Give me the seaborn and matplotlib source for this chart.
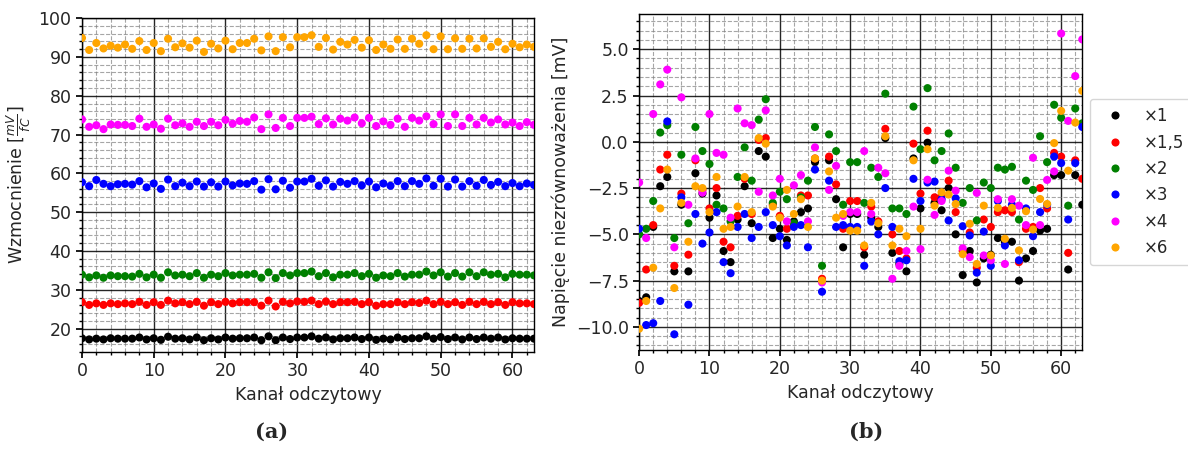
import numpy as np
import pandas as pd
import matplotlib
matplotlib.use("Agg")
import matplotlib.pyplot as plt
from matplotlib.ticker import MultipleLocator, FuncFormatter
import seaborn as sns

# ---------------------------------------------------------------- data
channels = list(range(64))
gain_labels = ["×1", "×1,5", "×2", "×3", "×4", "×6"]
colors = ["black", "red", "green", "blue", "magenta", "orange"]

# gain [mV/fC] per readout channel
gain_x1 = [17.5, 17.2, 17.4, 17.2, 17.5, 17.4, 17.4, 17.4, 17.7, 17.2,
           17.5, 17.1, 17.9, 17.4, 17.5, 17.2, 17.7, 17.0, 17.5, 17.2,
           17.7, 17.4, 17.5, 17.5, 17.7, 17.0, 18.0, 17.0, 17.7, 17.3,
           17.7, 17.7, 18.0, 17.4, 17.7, 17.2, 17.5, 17.5, 17.7, 17.3,
           17.7, 17.1, 17.4, 17.2, 17.7, 17.3, 17.5, 17.5, 18.0, 17.4,
           17.8, 17.3, 17.7, 17.2, 17.7, 17.3, 17.7, 17.4, 17.7, 17.2,
           17.5, 17.4, 17.4, 17.4]
gain_x15 = [26.8, 26.1, 26.5, 26.1, 26.5, 26.3, 26.5, 26.3, 26.9, 26.1,
            26.8, 26.1, 27.2, 26.5, 26.8, 26.3, 26.9, 25.9, 26.8, 26.3,
            26.9, 26.5, 26.8, 26.8, 26.8, 25.9, 27.2, 25.7, 26.9, 26.5,
            27.0, 26.9, 27.2, 26.3, 27.0, 26.3, 26.8, 26.8, 26.9, 26.3,
            26.8, 25.9, 26.3, 26.3, 26.8, 26.3, 26.8, 26.6, 27.2, 26.3,
            26.9, 26.3, 26.8, 26.1, 26.9, 26.3, 26.9, 26.3, 26.8, 26.1,
            26.8, 26.5, 26.5, 26.3]
gain_x2 = [33.9, 33.2, 33.7, 33.1, 33.7, 33.5, 33.5, 33.4, 34.1, 33.2,
           33.9, 33.1, 34.5, 33.7, 33.9, 33.5, 34.3, 33.1, 33.9, 33.5,
           34.3, 33.7, 33.9, 33.9, 34.1, 33.1, 34.5, 33.0, 34.3, 33.7,
           34.3, 34.3, 34.7, 33.5, 34.3, 33.2, 33.9, 33.9, 34.3, 33.5,
           34.1, 33.1, 33.7, 33.5, 34.3, 33.4, 33.9, 33.9, 34.7, 33.7,
           34.5, 33.4, 34.3, 33.4, 34.5, 33.5, 34.5, 33.9, 34.1, 33.2,
           34.1, 33.9, 33.9, 33.7]
gain_x3 = [57.7, 56.7, 58.3, 57.3, 56.7, 57.2, 57.3, 57.1, 58.0, 56.4,
           57.4, 56.0, 58.4, 56.7, 57.6, 56.7, 57.9, 56.6, 57.7, 56.6,
           57.9, 56.9, 57.4, 57.3, 58.0, 55.8, 58.5, 55.9, 58.1, 56.3,
           57.9, 57.9, 58.6, 56.8, 58.2, 56.6, 57.8, 57.3, 58.0, 56.9,
           57.9, 56.4, 57.4, 56.8, 58.0, 56.7, 58.0, 57.3, 58.7, 56.8,
           58.6, 56.6, 58.4, 56.6, 58.0, 56.8, 58.3, 57.0, 57.8, 56.7,
           57.5, 56.7, 57.4, 57.0]
gain_x4 = [73.9, 72.0, 72.4, 71.4, 72.6, 72.5, 72.5, 72.2, 74.1, 72.0,
           72.6, 71.5, 74.1, 72.4, 72.9, 72.0, 73.3, 72.2, 73.3, 72.4,
           73.8, 72.8, 73.5, 73.3, 74.4, 71.4, 75.2, 71.7, 74.3, 72.2,
           74.3, 74.3, 74.6, 72.7, 74.2, 72.6, 74.1, 73.6, 74.4, 72.9,
           74.3, 72.2, 73.4, 72.5, 74.1, 72.0, 74.3, 73.6, 74.7, 72.7,
           75.2, 72.2, 75.2, 72.2, 74.3, 72.6, 74.3, 73.1, 73.9, 72.6,
           73.1, 72.2, 73.2, 72.5]
gain_x6 = [94.9, 91.8, 93.6, 92.2, 92.9, 92.4, 93.2, 92.1, 94.1, 91.8,
           93.6, 91.5, 94.7, 92.5, 93.5, 92.4, 94.2, 91.3, 93.4, 92.2,
           94.2, 92.0, 93.6, 93.6, 94.7, 91.7, 95.3, 91.5, 95.1, 92.5,
           95.1, 95.1, 95.6, 92.6, 94.9, 91.9, 93.9, 93.2, 94.4, 92.4,
           94.3, 91.8, 93.2, 92.1, 94.5, 92.1, 94.7, 93.4, 95.6, 92.0,
           95.3, 92.0, 94.8, 92.1, 94.7, 92.2, 94.8, 92.6, 93.9, 92.0,
           93.4, 92.5, 93.2, 92.6]

# offset voltage [mV] per readout channel
offset_x1 = [-8.6, -8.4, -4.6, -2.4, -1.9, -7.0, -3.4, -7.0, -1.7, -2.8,
             -4.1, -2.9, -5.9, -6.5, -4.2, -2.4, -4.4, -0.5, -0.8, -5.2,
             -4.7, -5.3, -4.3, -3.8, -3.6, -1.1, -7.5, -1.0, -3.1, -5.7,
             -3.9, -3.9, -6.1, -4.1, -4.6, 0.2, -6.0, -6.6, -7.0, -0.9,
             -3.6, -0.05, -3.3, -3.7, -2.5, -5.0, -7.2, -5.9, -7.6, -6.3,
             -6.1, -5.2, -5.4, -5.4, -7.5, -6.3, -5.9, -4.8, -4.7, -1.8,
             -1.8, -6.9, -1.8, -3.4]
offset_x15 = [-8.7, -6.9, -4.5, -1.5, -0.7, -6.7, -2.8, -6.1, -1.0, -2.6,
              -3.6, -2.5, -5.4, -5.7, -4.0, -2.0, -3.9, 0.1, 0.2, -3.4,
              -4.0, -4.7, -4.5, -2.9, -2.9, -0.9, -7.4, -0.8, -2.3, -4.7,
              -3.2, -3.2, -5.7, -3.5, -4.3, 0.7, -5.0, -5.9, -6.3, -0.1,
              -2.8, 0.6, -3.0, -2.9, -2.1, -3.8, -5.9, -4.9, -6.8, -4.2,
              -4.6, -3.8, -3.7, -3.8, -6.5, -4.7, -4.6, -2.5, -3.6, -0.6,
              -0.8, -6.0, -1.0, -2.0]
offset_x2 = [-5.0, -4.7, -3.2, 0.5, 0.9, -5.2, -0.7, -4.4, 0.8, -0.5,
             -1.2, -3.4, -3.6, -4.3, -1.9, -0.3, -2.1, 1.2, 2.3, -3.3,
             -2.7, -3.1, -4.4, -3.0, -2.1, 0.8, -6.7, 0.4, -0.5, -3.4,
             -1.1, -1.1, -3.3, -1.4, -1.9, 2.6, -3.6, -3.6, -3.9, 1.9,
             -0.4, 2.9, -1.0, -0.5, 0.45, -1.4, -3.3, -2.5, -4.25, -2.2,
             -2.5, -1.4, -1.5, -1.35, -4.2, -2.1, -2.6, 0.3, -1.1, 2.0,
             1.3, -3.45, 1.8, 1.0]
offset_x3 = [-4.7, -9.9, -9.8, -8.6, 1.1, -10.4, -3.0, -8.8, -3.9, -5.5,
             -4.9, -3.8, -6.5, -7.1, -4.6, -3.9, -5.2, -4.6, -3.8, -4.5,
             -5.1, -5.6, -4.6, -4.5, -5.7, -1.5, -8.1, -2.1, -4.6, -4.5,
             -4.6, -4.6, -6.7, -4.3, -5.0, -2.5, -4.6, -6.45, -6.4, -2.0,
             -3.2, -2.2, -2.15, -3.1, -4.25, -3.05, -4.56, -5.06, -7.07, -4.85,
             -6.7, -3.2, -5.6, -3.4, -6.4, -3.6, -5.1, -3.8, -3.4, -0.8,
             -1.15, -4.2, -1.15, 0.8]
offset_x4 = [-2.2, -5.2, 1.5, 3.1, 3.9, -5.7, 2.4, -3.4, -0.9, -2.75,
             1.5, -0.6, -0.7, -4.1, 1.8, 1.0, 0.9, -2.7, 1.7, -2.9,
             -2.0, -4.3, -2.35, -1.8, -4.3, -0.3, -7.6, -2.6, -1.3, -4.0,
             -3.8, -3.8, -0.5, -3.9, -1.4, -1.7, -7.4, -6.7, -5.9, -3.5,
             -5.8, -2.05, -3.95, -3.2, -1.56, -2.64, -5.75, -6.23, -2.76, -6.14,
             -6.4, -3.1, -6.6, -3.1, -3.45, -4.5, -0.86, -4.5, -2.06, -1.6,
             5.85, 1.13, 3.55, 5.53]
offset_x6 = [-10.1, -8.6, -6.8, -3.6, -1.5, -7.9, -3.3, -5.4, -2.4, -2.5,
             -3.8, -1.9, -4.7, -4.6, -3.5, -1.9, -3.8, 0.2, -0.1, -3.5,
             -4.1, -2.6, -3.9, -3.1, -4.6, -0.9, -7.5, -1.6, -4.1, -3.9,
             -4.8, -4.8, -5.6, -3.3, -4.4, 0.3, -5.6, -4.7, -5.1, -1.0,
             -4.7, -0.4, -3.45, -2.73, -2.85, -3.36, -6.07, -4.43, -6.6, -3.45,
             -6.14, -3.57, -5.24, -3.57, -5.87, -3.75, -4.74, -3.09, -3.36, -0.07,
             1.67, -1.56, 1.04, 2.75]


def long_table(series):
    frames = []
    for label, values in zip(gain_labels, series):
        frames.append(pd.DataFrame({"kanal": channels, "wartosc": values, "wzmocnienie": label}))
    return pd.concat(frames, ignore_index=True)


gain_df = long_table([gain_x1, gain_x15, gain_x2, gain_x3, gain_x4, gain_x6])
offset_df = long_table([offset_x1, offset_x15, offset_x2, offset_x3, offset_x4, offset_x6])
palette = dict(zip(gain_labels, colors))

# ---------------------------------------------------------------- figure
sns.set_theme(style="ticks")
plt.rcParams["font.family"] = ["DejaVu Sans"]
plt.rcParams["mathtext.fontset"] = "dejavusans"

fig = plt.figure(figsize=(11.88, 4.54), dpi=100)
ax1 = fig.add_axes([0.069, 0.225, 0.3805, 0.735])
ax2 = fig.add_axes([0.538, 0.229, 0.373, 0.740])

sns.scatterplot(data=gain_df, x="kanal", y="wartosc", hue="wzmocnienie",
                palette=palette, s=34, linewidth=0, legend=False, ax=ax1, zorder=3)
sns.scatterplot(data=offset_df, x="kanal", y="wartosc", hue="wzmocnienie",
                palette=palette, s=34, linewidth=0, ax=ax2, zorder=3)

ax1.set_xlim(0, 63)
ax1.set_ylim(14, 100)
ax2.set_xlim(0, 63)
ax2.set_ylim(-11.25, 6.9)

for ax, ymaj, ymin in ((ax1, 10, 2), (ax2, 2.5, 0.5)):
    ax.xaxis.set_major_locator(MultipleLocator(10))
    ax.xaxis.set_minor_locator(MultipleLocator(2))
    ax.yaxis.set_major_locator(MultipleLocator(ymaj))
    ax.yaxis.set_minor_locator(MultipleLocator(ymin))
    ax.grid(which="major", color="black", linestyle="-", linewidth=1.0, alpha=0.85)
    ax.grid(which="minor", color="gray", linestyle="--", linewidth=0.8, alpha=0.7)
    ax.set_axisbelow(True)
    ax.tick_params(which="both", direction="out", labelsize=12.5, color="black")
    ax.tick_params(which="major", length=4)
    ax.tick_params(which="minor", length=2.5)
    for sp in ax.spines.values():
        sp.set_color("black")
        sp.set_linewidth(1.0)
    ax.set_xlabel("Kanał odczytowy", fontsize=12.5)

ax2.yaxis.set_major_formatter(FuncFormatter(
    lambda v, p: f"{v:.1f}".replace("-", "\u2212")))

ax1.set_ylabel(r"Wzmocnienie [$\frac{mV}{fC}$]", fontsize=12.5)
ax2.set_ylabel("Napięcie niezrównoważenia [mV]", fontsize=12.5)

sns.move_legend(ax2, "center left", bbox_to_anchor=(1.0, 0.5), title=None,
                fontsize=12, frameon=True, labelspacing=0.5, handletextpad=0.75,
                borderpad=0.5, borderaxespad=0.45, markerscale=1.0)

fig.text(0.229, 0.035, "(a)", fontsize=15, fontweight="bold", family="DejaVu Serif", ha="center")
fig.text(0.729, 0.035, "(b)", fontsize=15, fontweight="bold", family="DejaVu Serif", ha="center")

fig.savefig("out.png", dpi=100)
